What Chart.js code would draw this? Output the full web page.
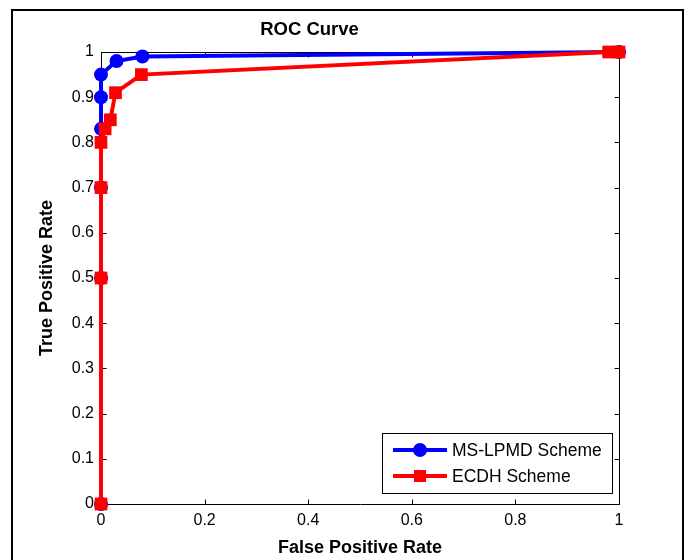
<!DOCTYPE html>
<html>
<head>
<meta charset="utf-8">
<title>ROC Curve</title>
<script src="https://cdn.jsdelivr.net/npm/chart.js@4.4.1/dist/chart.umd.min.js"></script>
<style>
  body { margin: 0; background: #fff; }
  canvas { display: block; }
</style>
</head>
<body>
<canvas id="roc-curve" width="689" height="560"></canvas>
<script>
// ROC points for the two schemes (false positive rate, true positive rate)
const schemeNames = ['MS-LPMD Scheme', 'ECDH Scheme'];
const lpmdFpr = [0, 0, 0, 0, 0, 0, 0.03, 0.08, 1];
const lpmdTpr = [0, 0.5, 0.7, 0.83, 0.9, 0.95, 0.98, 0.99, 1];
const ecdhFpr = [0, 0, 0, 0, 0.008, 0.018, 0.028, 0.078, 0.98, 1];
const ecdhTpr = [0, 0.5, 0.7, 0.8, 0.83, 0.85, 0.91, 0.95, 1, 1];
const xTicks = [0, 0.2, 0.4, 0.6, 0.8, 1];
const yTicks = [0, 0.1, 0.2, 0.3, 0.4, 0.5, 0.6, 0.7, 0.8, 0.9, 1];

const FONT = '"Liberation Sans", Arial, Helvetica, sans-serif';

function toPoints(xs, ys){
    return xs.map((x, i) => ({ x: x, y: ys[i] }));
}

// matlab-ish axes: boxed plot area, inward ticks on all sides, framed legend
const matlabAxes = {
    id: 'matlabAxes',
    beforeDatasetsDraw(chart){
        const ctx = chart.ctx;
        const a = chart.chartArea;
        const xs = chart.scales.x, ys = chart.scales.y;
        const L = Math.round(a.left) + 0.5, R = Math.round(a.right) + 0.5;
        const T = Math.round(a.top) + 0.5, B = Math.round(a.bottom) + 0.5;
        ctx.save();
        ctx.strokeStyle = '#000';
        ctx.lineWidth = 1;
        ctx.beginPath();
        ctx.rect(L, T, R - L, B - T);
        xs.ticks.forEach((t) => {
            const px = Math.round(xs.getPixelForValue(t.value)) + 0.5;
            ctx.moveTo(px, B); ctx.lineTo(px, B - 5);
            ctx.moveTo(px, T); ctx.lineTo(px, T + 5);
        });
        ys.ticks.forEach((t) => {
            const py = Math.round(ys.getPixelForValue(t.value)) + 0.5;
            ctx.moveTo(L, py); ctx.lineTo(L + 5, py);
            ctx.moveTo(R, py); ctx.lineTo(R - 5, py);
        });
        ctx.stroke();
        ctx.restore();
    },
    afterDraw(chart){
        const ctx = chart.ctx;
        ctx.save();

        // legend box, lower right
        const bx = 382.5, by = 433.5, bw = 230, bh = 60;
        ctx.fillStyle = '#fff';
        ctx.fillRect(bx, by, bw, bh);
        ctx.strokeStyle = '#000';
        ctx.lineWidth = 1;
        ctx.strokeRect(bx, by, bw, bh);
        chart.data.datasets.forEach((ds, i) => {
            const y = 450 + i * 26;
            ctx.strokeStyle = ds.borderColor;
            ctx.lineWidth = ds.borderWidth;
            ctx.beginPath();
            ctx.moveTo(393, y);
            ctx.lineTo(447, y);
            ctx.stroke();
            ctx.fillStyle = ds.pointBackgroundColor;
            if(ds.pointStyle === 'rect'){
                ctx.fillRect(420 - 6, y - 6, 12, 12);
            } else {
                ctx.beginPath();
                ctx.arc(420, y, 7, 0, Math.PI * 2);
                ctx.fill();
            }
            ctx.fillStyle = '#000';
            ctx.font = '17.5px ' + FONT;
            ctx.textBaseline = 'middle';
            ctx.textAlign = 'left';
            ctx.fillText(ds.label, 452, y + 1);
        });

        // figure frame
        ctx.strokeStyle = '#000';
        ctx.lineWidth = 2;
        ctx.beginPath();
        ctx.moveTo(12, 570);
        ctx.lineTo(12, 10);
        ctx.lineTo(683, 10);
        ctx.lineTo(683, 570);
        ctx.stroke();
        ctx.restore();
    }
};

const ctx = document.getElementById('roc-curve');
new Chart(ctx, {
    type: 'scatter',
    data: {
        datasets: [{
            label: schemeNames[0],
            data: toPoints(lpmdFpr, lpmdTpr),
            showLine: true,
            borderColor: '#0000ff',
            backgroundColor: '#0000ff',
            pointBackgroundColor: '#0000ff',
            pointBorderWidth: 0,
            borderWidth: 4,
            pointStyle: 'circle',
            pointRadius: 7,
            clip: false,
            order: 1
        }, {
            label: schemeNames[1],
            data: toPoints(ecdhFpr, ecdhTpr),
            showLine: true,
            borderColor: '#ff0000',
            backgroundColor: '#ff0000',
            pointBackgroundColor: '#ff0000',
            pointBorderWidth: 0,
            borderWidth: 4,
            pointStyle: 'rect',
            pointRadius: 9,   // rect side = 2 * r * sqrt(1/2)
            clip: false,
            order: 0
        }]
    },
    options: {
        responsive: false,
        animation: false,
        devicePixelRatio: 1,
        layout: { padding: { left: 0, right: 70, top: 0, bottom: 0 } },
        plugins: {
            legend: { display: false },
            tooltip: { enabled: false },
            title: {
                display: true,
                text: 'ROC Curve',
                color: '#000',
                font: { family: FONT, size: 18.5, weight: 'bold', lineHeight: 1.2 },
                padding: { top: 19, bottom: 10.8 }
            }
        },
        scales: {
            x: {
                type: 'linear',
                min: 0,
                max: 1,
                afterBuildTicks: (scale) => { scale.ticks = xTicks.map((v) => ({ value: v })); },
                afterFit: (scale) => { scale.height = 56; },
                grid: { display: false, drawTicks: false },
                border: { display: false },
                ticks: {
                    color: '#000',
                    font: { family: FONT, size: 16 },
                    padding: 7,
                    maxRotation: 0,
                    autoSkip: false,
                    callback: (v) => String(v)
                },
                title: {
                    display: true,
                    text: 'False Positive Rate',
                    color: '#000',
                    font: { family: FONT, size: 18, weight: 'bold', lineHeight: 1.2 },
                    padding: { top: 0, bottom: 1 }
                }
            },
            y: {
                type: 'linear',
                min: 0,
                max: 1,
                afterBuildTicks: (scale) => { scale.ticks = yTicks.map((v) => ({ value: v })); },
                afterFit: (scale) => { scale.width = 101; },
                grid: { display: false, drawTicks: false },
                border: { display: false },
                ticks: {
                    color: '#000',
                    font: { family: FONT, size: 16 },
                    padding: 7,
                    autoSkip: false,
                    callback: (v) => String(v)
                },
                title: {
                    display: true,
                    text: 'True Positive Rate',
                    color: '#000',
                    font: { family: FONT, size: 18, weight: 'bold', lineHeight: 1.2 },
                    padding: { top: 36, bottom: 0 }
                }
            }
        }
    },
    plugins: [matlabAxes]
});
</script>
</body>
</html>
